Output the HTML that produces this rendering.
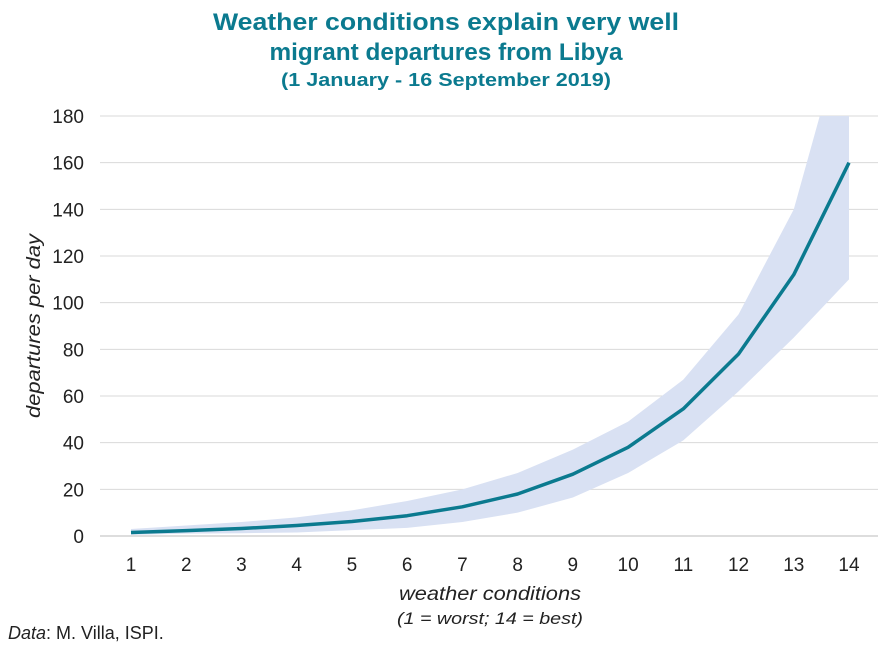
<!DOCTYPE html>
<html><head><meta charset="utf-8"><style>
body{margin:0;background:#fff;font-family:"Liberation Sans",sans-serif;}
svg{display:block}
</style></head><body>
<svg width="892" height="650" id="c">
<text x="446" y="30" text-anchor="middle" font-size="24" font-weight="bold" fill="#0b7a8f" textLength="466" lengthAdjust="spacingAndGlyphs">Weather conditions explain very well</text>
<text x="446" y="60" text-anchor="middle" font-size="24" font-weight="bold" fill="#0b7a8f" textLength="353" lengthAdjust="spacingAndGlyphs">migrant departures from Libya</text>
<text x="446" y="86" text-anchor="middle" font-size="18" font-weight="bold" fill="#0b7a8f" textLength="330" lengthAdjust="spacingAndGlyphs">(1 January - 16 September 2019)</text>
<g id="grid"></g>
<defs><clipPath id="clip"><rect x="90" y="116" width="800" height="430"/></clipPath></defs>
<path id="band" fill="#d9e1f3" clip-path="url(#clip)"/>
<path id="line" fill="none" stroke="#0b7a8f" stroke-width="3.5" stroke-linejoin="round"/>
<g id="xt"></g>
<text x="490" y="600" text-anchor="middle" font-size="19" font-style="italic" fill="#222" textLength="182" lengthAdjust="spacingAndGlyphs">weather conditions</text>
<text x="490" y="624" text-anchor="middle" font-size="17" font-style="italic" fill="#222" textLength="186" lengthAdjust="spacingAndGlyphs">(1 = worst; 14 = best)</text>
<text transform="translate(40,326) rotate(-90)" text-anchor="middle" font-size="19" font-style="italic" fill="#222" textLength="184" lengthAdjust="spacingAndGlyphs">departures per day</text>
<text x="8" y="639" font-size="18" fill="#222"><tspan font-style="italic">Data</tspan>: M. Villa, ISPI.</text>
</svg>
<script>
const categories=[1,2,3,4,5,6,7,8,9,10,11,12,13,14];
const central=[1.5,2.3,3.2,4.5,6.2,8.7,12.5,18,26.5,38,54.5,78,112,160];
const upper=[3,4.5,6,8,11,15,20,27,37,49,67,95,140,225];
const lower=[0.5,1,1.2,1.5,2.5,3.5,6,10,16.5,27,41,62,85,110];
const yTicks=[0,20,40,60,80,100,120,140,160,180];
const NS="http://www.w3.org/2000/svg";
const x=v=>131+(v-1)*(718/13);
const y=v=>536-v*(420/180);
const grid=document.getElementById('grid');
yTicks.forEach(t=>{
 const l=document.createElementNS(NS,'line');
 l.setAttribute('x1',100);l.setAttribute('x2',878);l.setAttribute('y1',y(t));l.setAttribute('y2',y(t));
 l.setAttribute('stroke',t===0?'#bbb':'#d9d9d9');l.setAttribute('stroke-width',1);
 
 
 grid.appendChild(l);
 const tx=document.createElementNS(NS,'text');
 tx.setAttribute('x',84);tx.setAttribute('y',y(t)+7);tx.setAttribute('text-anchor','end');
 tx.setAttribute('font-size','19');tx.setAttribute('fill','#222');tx.textContent=t;
 
 
 grid.appendChild(tx);
});
const xt=document.getElementById('xt');
categories.forEach(c=>{
 const tx=document.createElementNS(NS,'text');
 tx.setAttribute('x',x(c));tx.setAttribute('y',571);tx.setAttribute('text-anchor','middle');
 tx.setAttribute('font-size','19');tx.setAttribute('fill','#222');tx.textContent=c;
 
 
 xt.appendChild(tx);
});
let d=categories.map((c,i)=>(i?'L':'M')+x(c)+','+y(upper[i])).join('');
for(let i=categories.length-1;i>=0;i--)d+='L'+x(categories[i])+','+y(lower[i]);
document.getElementById('band').setAttribute('d',d+'Z');
document.getElementById('line').setAttribute('d',categories.map((c,i)=>(i?'L':'M')+x(c)+','+y(central[i])).join(''));
</script>
</body></html>
